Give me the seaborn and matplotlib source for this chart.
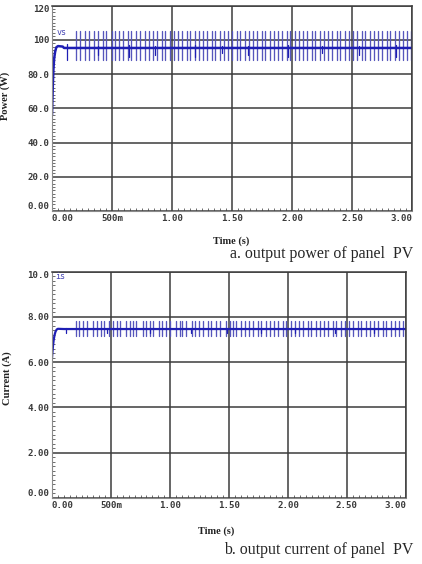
import matplotlib
matplotlib.use("Agg")
import matplotlib.pyplot as plt
import seaborn as sns
import pandas as pd
from matplotlib.ticker import MultipleLocator, FixedLocator

sns.set_style("white")

# ---------------- data ----------------
x_ticks = [0.0, 0.5, 1.0, 1.5, 2.0, 2.5, 3.0]
x_tick_labels = ["0.00", "500m", "1.00", "1.50", "2.00", "2.50", "3.00"]

power_ticks = [0, 20, 40, 60, 80, 100, 120]
power_tick_labels = ["0.00", "20.0", "40.0", "60.0", "80.0", "100", "120"]
current_ticks = [0, 2, 4, 6, 8, 10]
current_tick_labels = ["0.00", "2.00", "4.00", "6.00", "8.00", "10.0"]

# start-up transient
power_rise_t = [0.0, 0.003, 0.007, 0.012, 0.018, 0.026, 0.036, 0.05, 0.09, 0.10]
power_rise_v = [56.0, 64.0, 74.0, 83.0, 89.0, 93.0, 95.6, 96.3, 96.0, 95.2]
power_base = 95.2
power_hi = 105.0
power_lo = 88.0
power_pulse_t = [0.200, 0.275, 0.353, 0.422, 0.497, 0.561, 0.631, 0.700, 0.775,
                 0.844, 0.914, 0.983, 1.053, 1.122, 1.192, 1.261, 1.331, 1.400,
                 1.469, 1.539, 1.608, 1.678, 1.747, 1.817, 1.886, 1.956, 2.025,
                 2.094, 2.164, 2.233, 2.303, 2.372, 2.442, 2.511, 2.581, 2.650,
                 2.719, 2.789, 2.858, 2.928, 2.990]
power_dip_t = [0.125, 0.385, 0.64, 0.86, 1.19, 1.42, 1.63, 1.97, 2.25, 2.56, 2.87]
power_dip_v = [88.0, 91.0, 90.0, 91.0, 90.0, 92.0, 91.0, 90.0, 92.0, 91.0, 90.0]

current_rise_t = [0.0, 0.004, 0.009, 0.015, 0.022, 0.030, 0.040, 0.05, 0.10]
current_rise_v = [6.19, 6.45, 6.75, 7.0, 7.2, 7.35, 7.44, 7.47, 7.46]
current_base = 7.46
current_hi = 7.82
current_lo = 7.15
current_pulse_t = [0.203, 0.265, 0.350, 0.413, 0.484, 0.547, 0.627, 0.684, 0.768,
                   0.830, 0.904, 0.966, 1.051, 1.102, 1.186, 1.248, 1.319, 1.390,
                   1.475, 1.531, 1.602, 1.672, 1.743, 1.814, 1.884, 1.955, 2.026,
                   2.096, 2.167, 2.237, 2.308, 2.379, 2.449, 2.520, 2.590, 2.661,
                   2.732, 2.802, 2.873, 2.943]
current_dip_t = [0.12, 0.47, 0.83, 1.18, 1.48, 1.77, 2.06, 2.40, 2.73]
current_dip_v = [7.30, 7.28, 7.30, 7.27, 7.30, 7.28, 7.30, 7.28, 7.30]

T_END = 3.02
PULSE_W = 0.03


def pulse_frame(pulses, base, hi, lo):
    ts, vs, grp = [], [], []
    for i, t in enumerate(pulses):
        for k, tt in enumerate((t, t + PULSE_W)):
            ts += [tt, tt]
            vs += [hi, lo]
            grp += [2 * i + k, 2 * i + k]
    return pd.DataFrame({"t": ts, "v": vs, "g": grp})


def dip_frame(dip_t, dip_v, base):
    ts, vs, grp = [], [], []
    for i, (t, d) in enumerate(zip(dip_t, dip_v)):
        ts += [t, t]
        vs += [base + (base - d) * 0.3, d]
        grp += [i, i]
    return pd.DataFrame({"t": ts, "v": vs, "g": grp})


def base_frame(rise_t, rise_v, base):
    ts = list(rise_t) + [T_END]
    vs = list(rise_v) + [base]
    return pd.DataFrame({"t": ts, "v": vs})


fig = plt.figure(figsize=(4.22, 5.64), dpi=100)
W, H = 422.0, 564.0
ax1 = fig.add_axes([52 / W, 1 - 211 / H, 360 / W, 205.5 / H])
ax2 = fig.add_axes([52 / W, 1 - 498 / H, 354 / W, 226.5 / H])

spike_col = "#5656bc"
base_col = "#1e1eb4"
mono = "DejaVu Sans Mono"


def style_axes(ax, yticks, ylabels, ymax, yminor, ylabel, xlab_x, ylab_xy):
    ax.set_xlim(0, 3.0)
    ax.set_ylim(0, ymax)
    ax.xaxis.set_major_locator(FixedLocator(x_ticks))
    ax.yaxis.set_major_locator(FixedLocator(yticks))
    ax.xaxis.set_minor_locator(MultipleLocator(0.05))
    ax.yaxis.set_minor_locator(MultipleLocator(yminor))
    ax.set_xticklabels(x_tick_labels)
    ax.set_yticklabels(ylabels)
    ax.grid(True, which="major", color="#3c3c3c", lw=1.1)
    ax.set_axisbelow(True)
    ax.tick_params(which="both", direction="in", colors="#555555",
                   labelcolor="#3a3a3a", labelsize=6.6, left=True, bottom=True)
    ax.tick_params(which="major", length=0, pad=2)
    ax.tick_params(which="minor", length=2.5, width=0.6)
    for lab in ax.get_xticklabels() + ax.get_yticklabels():
        lab.set_family(mono)
        lab.set_weight("bold")
    xl = ax.get_xticklabels()
    xl[0].set_ha("left")
    xl[-1].set_ha("right")
    yl = ax.get_yticklabels()
    yl[0].set_va("bottom")
    yl[-1].set_va("top")
    for s in ("left", "bottom"):
        ax.spines[s].set_color("#8a8a8a")
        ax.spines[s].set_linewidth(0.8)
    for s in ("top", "right"):
        ax.spines[s].set_color("#3c3c3c")
        ax.spines[s].set_linewidth(1.1)
    ax.set_xlabel("Time (s)", family="Liberation Serif", weight="bold",
                  fontsize=7.4, color="#222222")
    ax.xaxis.set_label_coords(xlab_x, -0.125)
    ax.set_ylabel(ylabel, family="Liberation Serif", weight="bold",
                  fontsize=7.6, color="#222222")
    ax.yaxis.set_label_coords(*ylab_xy)


def draw_signal(ax, pulses, dips_t, dips_v, rise_t, rise_v, base, hi, lo, base_lw):
    pf = pulse_frame(pulses, base, hi, lo)
    sns.lineplot(data=pf, x="t", y="v", units="g", estimator=None, sort=False,
                 color=spike_col, lw=0.95, ax=ax, legend=False)
    df = dip_frame(dips_t, dips_v, base)
    sns.lineplot(data=df, x="t", y="v", units="g", estimator=None, sort=False,
                 color=base_col, lw=0.9, ax=ax, legend=False)
    bf = base_frame(rise_t, rise_v, base)
    sns.lineplot(data=bf, x="t", y="v", estimator=None, sort=False,
                 color=base_col, lw=base_lw, ax=ax, legend=False)


# ---- power panel ----
draw_signal(ax1, power_pulse_t, power_dip_t, power_dip_v, power_rise_t,
            power_rise_v, power_base, power_hi, power_lo, 1.8)
ax1.text(0.035, 104.3, "vs", color="#4646b4", fontsize=6, family=mono,
         va="center", ha="left")
style_axes(ax1, power_ticks, power_tick_labels, 120, 2, "Power (W)",
           0.497, (-0.117, 0.56))

# ---- current panel ----
draw_signal(ax2, current_pulse_t, current_dip_t, current_dip_v, current_rise_t,
            current_rise_v, current_base, current_hi, current_lo, 1.6)
ax2.text(0.03, 9.8, "is", color="#4646b4", fontsize=6, family=mono,
         va="center", ha="left")
style_axes(ax2, current_ticks, current_tick_labels, 10, 0.2, "Current (A)",
           0.463, (-0.113, 0.53))

# captions
fig.text(413 / W, 1 - 254 / H, "a. output power of panel  PV",
         family="Liberation Serif", fontsize=11.4, ha="right", va="center")
fig.text(413 / W, 1 - 550 / H, "b. output current of panel  PV",
         family="Liberation Serif", fontsize=11.4, ha="right", va="center")

fig.savefig("out.png", dpi=100)
